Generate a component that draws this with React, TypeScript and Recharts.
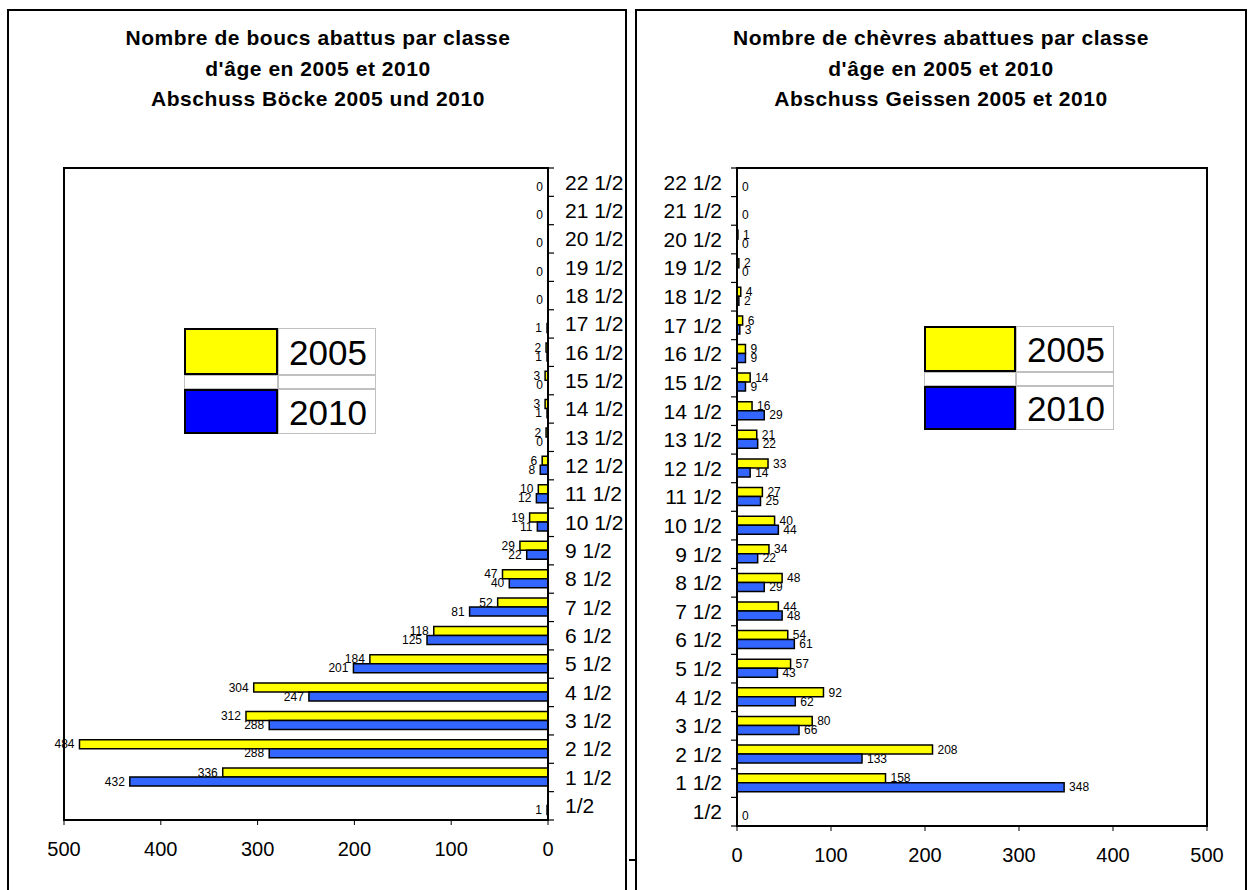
import React from "react"
import { BarChart, Bar, XAxis, YAxis, LabelList, ReferenceArea, Legend, Rectangle } from "recharts"

// classes d'âge, du haut vers le bas
const AGES = [
  "22 1/2", "21 1/2", "20 1/2", "19 1/2", "18 1/2", "17 1/2", "16 1/2", "15 1/2",
  "14 1/2", "13 1/2", "12 1/2", "11 1/2", "10 1/2", "9 1/2", "8 1/2", "7 1/2",
  "6 1/2", "5 1/2", "4 1/2", "3 1/2", "2 1/2", "1 1/2", "1/2",
]

// boucs / Böcke
const BUCKS_2005 = [null, null, null, null, null, null, 2, 3, 3, 2, 6, 10, 19, 29, 47, 52, 118, 184, 304, 312, 484, 336, null]
const BUCKS_2010 = [0, 0, 0, 0, 0, 1, 1, 0, 1, 0, 8, 12, 11, 22, 40, 81, 125, 201, 247, 288, 288, 432, 1]

// chèvres / Geissen
const GOATS_2005 = [null, null, 1, 2, 4, 6, 9, 14, 16, 21, 33, 27, 40, 34, 48, 44, 54, 57, 92, 80, 208, 158, null]
const GOATS_2010 = [0, 0, 0, 0, 2, 3, 9, 9, 29, 22, 14, 25, 44, 22, 29, 48, 61, 43, 62, 66, 133, 348, 0]

const X_TICKS = [0, 100, 200, 300, 400, 500]
const YEARS = ["2005", "2010"]
const BAR_COLORS = ["#FFFF00", "#3366FF"]
const LEGEND_COLORS = ["#FFFF00", "#0000FF"]

const BUCKS_TITLE = ["Nombre de boucs abattus par classe", "d'âge en 2005 et 2010", "Abschuss Böcke 2005 und 2010"]
const GOATS_TITLE = ["Nombre de chèvres abattues par classe", "d'âge en 2005 et 2010", "Abschuss Geissen 2005 et 2010"]

const FONT = "'Liberation Sans', Arial, sans-serif"

const buckRows = AGES.map((age, i) => ({ age, y2005: BUCKS_2005[i], y2010: BUCKS_2010[i] }))
const goatRows = AGES.map((age, i) => ({ age, y2005: GOATS_2005[i], y2010: GOATS_2010[i] }))

// les barres à 0 gardent une largeur infime pour que l'étiquette "0" soit posée
const tinyForZero = (value: any) => (value === 0 ? 0.02 : 0)

// barre avec contour, rien pour les valeurs nulles
const barShape = (props: any) => {
  if (Math.abs(Number(props.width)) < 0.1) return <g />
  return <Rectangle {...props} />
}

// étiquette de valeur au bout de la barre
const valueLabel = (side: "left" | "right") => (props: any) => {
  const { x, y, width, height, value } = props
  if (value === null || value === undefined) return null
  const x0 = Number(x)
  const w = Number(width)
  const lo = Math.min(x0, x0 + w)
  const hi = Math.max(x0, x0 + w)
  const cy = Number(y) + Number(height) / 2
  return (
    <text
      x={side === "left" ? lo - 5 : hi + 5}
      y={cy}
      dy="0.35em"
      textAnchor={side === "left" ? "end" : "start"}
      fontSize={12}
      fontFamily={FONT}
      fill="#000"
    >
      {value}
    </text>
  )
}

// graduations entre les classes + libellé
function AgeTick(props: any) {
  const { x, y, payload, index, side, band } = props
  const out = side === "right" ? 1 : -1
  const ax = Number(x)
  const cy = Number(y)
  return (
    <g>
      <line x1={ax} x2={ax + out * 6} y1={cy - band / 2} y2={cy - band / 2} stroke="#000" strokeWidth={1.2} />
      {index === AGES.length - 1 && (
        <line x1={ax} x2={ax + out * 6} y1={cy + band / 2} y2={cy + band / 2} stroke="#000" strokeWidth={1.2} />
      )}
      <text
        x={ax + out * (side === "right" ? 17 : 15)}
        y={cy}
        dy="0.35em"
        textAnchor={side === "right" ? "start" : "end"}
        fontSize={21}
        fontFamily={FONT}
        fill="#000"
      >
        {payload.value}
      </text>
    </g>
  )
}

function YearLegend({ cols, rows }: { cols: number[]; rows: number[] }) {
  const cell = { boxSizing: "border-box" as const, border: "1px solid #c0c0c0" }
  return (
    <div style={{ display: "grid", gridTemplateColumns: `${cols[0]}px ${cols[1]}px`, gridTemplateRows: rows.map((r) => r + "px").join(" ") }}>
      <div style={{ background: LEGEND_COLORS[0], border: "2px solid #000", boxSizing: "border-box" }} />
      <div style={{ ...cell, fontSize: 35, lineHeight: rows[0] + "px", paddingLeft: 10, fontFamily: FONT }}>{YEARS[0]}</div>
      <div style={cell} />
      <div style={cell} />
      <div style={{ background: LEGEND_COLORS[1], border: "2px solid #000", boxSizing: "border-box" }} />
      <div style={{ ...cell, fontSize: 35, lineHeight: rows[2] + "px", paddingLeft: 10, fontFamily: FONT }}>{YEARS[1]}</div>
    </div>
  )
}

type PanelProps = {
  rows: any[]
  side: "left" | "right"
  width: number
  margin: { top: number; left: number; right: number; bottom: number }
  legendPos: { left: number; top: number }
  legendCols: number[]
  legendRows: number[]
}

const CHART_H = 890
const Y_AXIS_W = 70
const X_AXIS_H = 40

function AgeChart({ rows, side, width, margin, legendPos, legendCols, legendRows }: PanelProps) {
  const plotH = CHART_H - margin.top - margin.bottom - X_AXIS_H
  const band = plotH / AGES.length
  const reversed = side === "left"
  return (
    <BarChart
      width={width}
      height={CHART_H}
      data={rows}
      layout="vertical"
      margin={margin}
      barCategoryGap="17%"
      barGap={0}
    >
      <ReferenceArea x1={0} x2={500} fill="none" stroke="#000" strokeWidth={2} ifOverflow="visible" />
      <XAxis
        type="number"
        domain={[0, 500]}
        ticks={X_TICKS}
        reversed={reversed}
        height={X_AXIS_H}
        tickSize={5}
        tickMargin={17}
        tick={{ fontSize: 20, fill: "#000", fontFamily: FONT }}
        axisLine={{ stroke: "#000", strokeWidth: 2 }}
        tickLine={{ stroke: "#000" }}
        interval={0}
      />
      <YAxis
        type="category"
        dataKey="age"
        orientation={reversed ? "right" : "left"}
        width={Y_AXIS_W}
        tickSize={0}
        tickMargin={0}
        tickLine={false}
        interval={0}
        axisLine={{ stroke: "#000", strokeWidth: 2 }}
        tick={<AgeTick side={reversed ? "right" : "left"} band={band} />}
      />
      <Legend
        layout="horizontal"
        verticalAlign="middle"
        align="center"
        wrapperStyle={{ left: legendPos.left, top: legendPos.top, width: legendCols[0] + legendCols[1] }}
        content={() => <YearLegend cols={legendCols} rows={legendRows} />}
      />
      <Bar
        dataKey="y2005"
        name={YEARS[0]}
        fill={BAR_COLORS[0]}
        stroke="#000"
        strokeWidth={1.5}
        minPointSize={tinyForZero}
        shape={barShape}
        isAnimationActive={false}
      >
        <LabelList dataKey="y2005" content={valueLabel(reversed ? "left" : "right")} />
      </Bar>
      <Bar
        dataKey="y2010"
        name={YEARS[1]}
        fill={BAR_COLORS[1]}
        stroke="#000"
        strokeWidth={1.5}
        minPointSize={tinyForZero}
        shape={barShape}
        isAnimationActive={false}
      >
        <LabelList dataKey="y2010" content={valueLabel(reversed ? "left" : "right")} />
      </Bar>
    </BarChart>
  )
}

function Title({ lines, center }: { lines: string[]; center: number }) {
  return (
    <div
      style={{
        position: "absolute",
        left: center - 300,
        width: 600,
        top: 23,
        textAlign: "center",
        fontFamily: FONT,
        fontWeight: "bold",
        fontSize: 21,
        letterSpacing: 0.55,
        lineHeight: "30.5px",
      }}
    >
      {lines.map((l) => (
        <div key={l}>{l}</div>
      ))}
    </div>
  )
}

export default function App() {
  return (
    <div style={{ position: "relative", width: 1248, height: 890, overflow: "hidden", background: "#fff" }}>
      <style>{"body{margin:0}"}</style>
      {/* cadres des deux graphiques */}
      <div style={{ position: "absolute", left: 7, top: 9, width: 620, height: 900, border: "2px solid #000", boxSizing: "border-box" }} />
      <div style={{ position: "absolute", left: 635, top: 9, width: 612, height: 900, border: "2px solid #000", boxSizing: "border-box" }} />
      <div style={{ position: "absolute", left: 629, top: 859, width: 7, height: 2, background: "#000" }} />

      <Title lines={BUCKS_TITLE} center={318} />
      <Title lines={GOATS_TITLE} center={941} />

      <div style={{ position: "absolute", left: 0, top: 0 }}>
        <AgeChart
          rows={buckRows}
          side="left"
          width={630}
          margin={{ top: 168, left: 64, right: 630 - 548 - Y_AXIS_W, bottom: CHART_H - 820 - X_AXIS_H }}
          legendPos={{ left: 184, top: 328 }}
          legendCols={[94, 98]}
          legendRows={[47, 14, 45]}
        />
      </div>
      <div style={{ position: "absolute", left: 630, top: 0 }}>
        <AgeChart
          rows={goatRows}
          side="right"
          width={618}
          margin={{ top: 168, left: 107 - Y_AXIS_W, right: 618 - 577, bottom: CHART_H - 826 - X_AXIS_H }}
          legendPos={{ left: 294, top: 326 }}
          legendCols={[92, 98]}
          legendRows={[46, 14, 44]}
        />
      </div>
    </div>
  )
}
